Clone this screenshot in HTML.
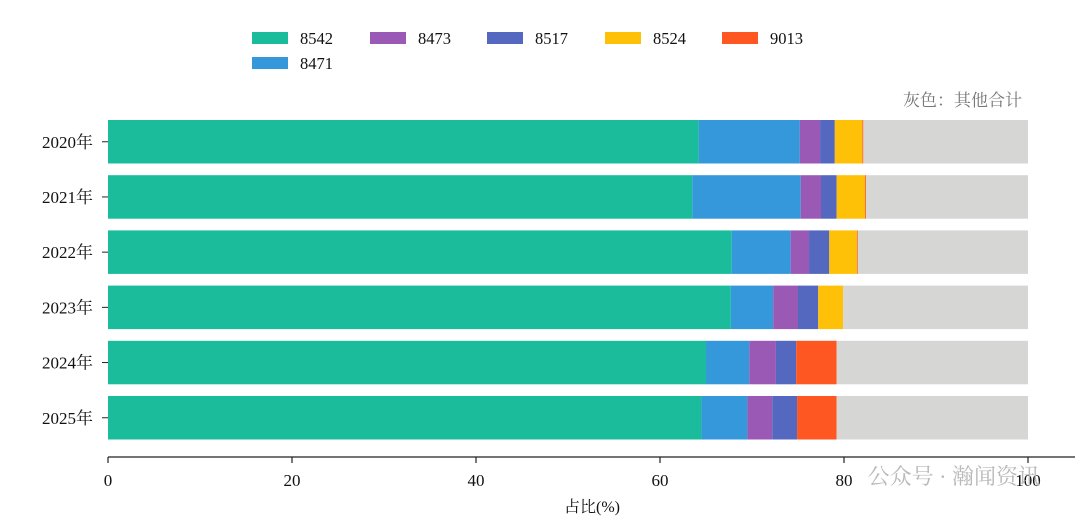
<!DOCTYPE html>
<html><head><meta charset="utf-8">
<style>
body{margin:0;background:#fff;}
svg text{font-family:"Liberation Serif","Noto Serif CJK SC",serif;}
</style></head>
<body>
<svg id="chart" width="1080" height="519" xmlns="http://www.w3.org/2000/svg">
<g id="legend"></g>
<text x="1022" y="106" text-anchor="end" font-size="17" fill="#777">灰色：其他合计</text>
<g id="bars"></g>
<g id="axes"></g>
<text x="592" y="512" text-anchor="middle" font-size="16" fill="#111">占比(%)</text>
<text x="1040" y="484" text-anchor="end" font-size="22" fill="#b8b8b8" font-family="Liberation Sans, Noto Sans CJK SC, sans-serif">公众号 · 瀚闻资讯</text>
</svg>
<script>
const categories = ["2020年","2021年","2022年","2023年","2024年","2025年"];
const seriesNames = ["8542","8471","8473","8517","8524","9013"];
const s8542 = [64.2,63.5,67.8,67.7,65.0,64.5];
const s8471 = [11.0,11.8,6.4,4.6,4.7,5.0];
const s8473 = [2.2,2.2,2.0,2.7,2.9,2.7];
const s8517 = [1.6,1.7,2.2,2.2,2.2,2.7];
const s8524 = [3.0,3.1,3.0,2.7,0,0];
const s9013 = [0.1,0.1,0.1,0,4.4,4.3];
const xTicks = [0,20,40,60,80,100];
const colors = ["#1abc9c","#3498db","#9b59b6","#5468c0","#ffc107","#ff5722"];
const series = [s8542,s8471,s8473,s8517,s8524,s9013];
const NS="http://www.w3.org/2000/svg";
const x = v => 108 + v*9.2;
const y = i => 120 + i*55.2;
const bh = 43.5;
function mk(tag, attrs, parent){const e=document.createElementNS(NS,tag);for(const k in attrs)e.setAttribute(k,attrs[k]);parent.appendChild(e);return e;}
const bars=document.getElementById('bars');
categories.forEach((c,i)=>{
  let acc=0;
  series.forEach((s,j)=>{
    const r=mk('rect',{x:x(acc),y:y(i),width:Math.max(0,x(acc+s[i])-x(acc)),height:bh,fill:colors[j]},bars);
    
    
    acc+=s[i];
  });
  const g=mk('rect',{x:x(acc),y:y(i),width:Math.max(0,x(100)-x(acc)),height:bh,fill:"#d6d6d4"},bars);
  
  
});
const axes=document.getElementById('axes');
const al=mk('line',{x1:108,x2:1075,y1:457,y2:457,stroke:"#222","stroke-width":1.2},axes);


xTicks.forEach(t=>{
  mk('line',{x1:x(t),x2:x(t),y1:457,y2:463,stroke:"#222","stroke-width":1.2},axes);
  const tl=mk('text',{x:x(t),y:486,"text-anchor":"middle","font-size":17,fill:"#111"},axes);
  tl.textContent=t;
  
  
});
categories.forEach((c,i)=>{
  const cy=y(i)+bh/2;
  mk('line',{x1:102,x2:108,y1:cy,y2:cy,stroke:"#222","stroke-width":1},axes);
  const tl=mk('text',{x:93,y:cy+6,"text-anchor":"end","font-size":17,fill:"#111"},axes);
  tl.textContent=c;
  
  
});
const legend=document.getElementById('legend');
const lpos=[[252,38],[370,38],[487,38],[605,38],[722,38],[252,63]];
const lorder=[0,2,3,4,5,1];
lorder.forEach((j,k)=>{
  const [lx,ly]=lpos[k];
  const sw=mk('rect',{x:lx,y:ly-6,width:36,height:12,fill:colors[j]},legend);
  
  
  const t=mk('text',{x:lx+48,y:ly+6,"font-size":16.5,fill:"#111"},legend);
  t.textContent=seriesNames[j];
  
  
});
</script>
</body></html>
